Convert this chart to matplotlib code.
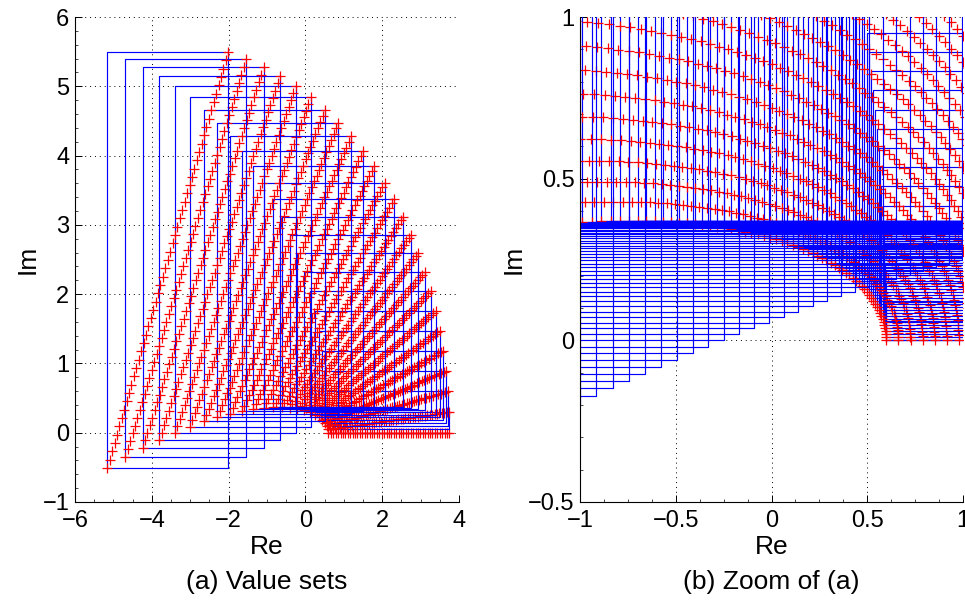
import numpy as np
import matplotlib
matplotlib.use("Agg")
from matplotlib import pyplot as plt
from matplotlib.ticker import AutoMinorLocator

plt.rcParams['font.family'] = ['Liberation Sans', 'DejaVu Sans']

# interval polynomial p(s) = a3 s^3 + a2 s^2 + a1 s + a0
a0_bounds = [0.60, 3.75]
a1_bounds = [0.48, 2.98]
a2 = 1.0
a3 = 0.12

# frequency grid for the full plot
omega_full = [0.0, 0.1, 0.2, 0.3, 0.4, 0.5, 0.6, 0.7, 0.8, 0.9, 1.0, 1.1, 1.2,
              1.3, 1.4, 1.5, 1.6, 1.7, 1.8, 1.9, 2.0, 2.1, 2.2, 2.3, 2.4]

# finer frequency grid for the zoomed plot
omega_zoom = [0.00, 0.02, 0.04, 0.06, 0.08, 0.10, 0.12, 0.14, 0.16, 0.18,
              0.20, 0.22, 0.24, 0.26, 0.28, 0.30, 0.32, 0.34, 0.36, 0.38,
              0.40, 0.42, 0.44, 0.46, 0.48, 0.50, 0.52, 0.54, 0.56, 0.58,
              0.60, 0.62, 0.64, 0.66, 0.68, 0.70, 0.72, 0.74, 0.76, 0.78,
              0.80, 0.82, 0.84, 0.86, 0.88, 0.90, 0.92, 0.94, 0.96, 0.98,
              1.00, 1.02, 1.04, 1.06, 1.08, 1.10, 1.12, 1.14, 1.16, 1.18,
              1.20, 1.22, 1.24, 1.26, 1.28, 1.30, 1.32, 1.34, 1.36, 1.38,
              1.40, 1.42, 1.44, 1.46, 1.48, 1.50, 1.52, 1.54, 1.56, 1.58,
              1.60, 1.62, 1.64, 1.66, 1.68, 1.70, 1.72, 1.74, 1.76, 1.78,
              1.80, 1.82, 1.84, 1.86, 1.88, 1.90, 1.92, 1.94, 1.96, 1.98,
              2.00, 2.02, 2.04, 2.06, 2.08, 2.10, 2.12, 2.14, 2.16, 2.18,
              2.20, 2.22, 2.24, 2.26, 2.28, 2.30, 2.32, 2.34, 2.36, 2.38,
              2.40]

# samples of the uncertain parameter q in [0, 1]
q_samples = [0.00, 0.02, 0.04, 0.06, 0.08, 0.10, 0.12, 0.14, 0.16, 0.18,
             0.20, 0.22, 0.24, 0.26, 0.28, 0.30, 0.32, 0.34, 0.36, 0.38,
             0.40, 0.42, 0.44, 0.46, 0.48, 0.50, 0.52, 0.54, 0.56, 0.58,
             0.60, 0.62, 0.64, 0.66, 0.68, 0.70, 0.72, 0.74, 0.76, 0.78,
             0.80, 0.82, 0.84, 0.86, 0.88, 0.90, 0.92, 0.94, 0.96, 0.98,
             1.00]


def p_jw(w, a0, a1):
    s = 1j * w
    return a3 * s**3 + a2 * s**2 + a1 * s + a0


def draw_value_sets(ax, omegas):
    q = np.array(q_samples)
    for w in omegas:
        # Kharitonov rectangle from the coefficient bounds
        lo = p_jw(w, a0_bounds[0], a1_bounds[0])
        hi = p_jw(w, a0_bounds[1], a1_bounds[1])
        rx = [lo.real, hi.real, hi.real, lo.real, lo.real]
        ry = [lo.imag, lo.imag, hi.imag, hi.imag, lo.imag]
        ax.plot(rx, ry, color='b', lw=0.85)
        # affine family: both coefficients move with q
        a0 = a0_bounds[0] + q * (a0_bounds[1] - a0_bounds[0])
        a1 = a1_bounds[0] + q * (a1_bounds[1] - a1_bounds[0])
        v = p_jw(w, a0, a1)
        ax.plot(v.real, v.imag, '+', color='r', ms=7.5, mew=0.9)


def style_axes(ax, xticks, xlabels, yticks, ylabels, xlim, ylim):
    ax.set_xlim(xlim)
    ax.set_ylim(ylim)
    ax.set_xticks(xticks)
    ax.set_xticklabels(xlabels)
    ax.set_yticks(yticks)
    ax.set_yticklabels(ylabels)
    ax.xaxis.set_minor_locator(AutoMinorLocator(4))
    ax.yaxis.set_minor_locator(AutoMinorLocator(5))
    ax.tick_params(which='both', direction='in', labelsize=17, top=False, right=False)
    ax.tick_params(axis='x', which='major', length=5, width=0.7, pad=6)
    ax.tick_params(axis='y', which='major', length=5, width=0.7, pad=4)
    ax.tick_params(which='minor', length=2.5, width=0.5)
    for side in ('top', 'right'):
        ax.spines[side].set_visible(False)
    for side in ('left', 'bottom'):
        ax.spines[side].set_linewidth(0.8)
    ax.grid(True, which='major', color='k', linestyle=(0, (1, 4)), linewidth=0.7)
    ax.set_axisbelow(True)
    ax.set_xlabel('Re', fontsize=19, labelpad=2)
    ax.set_ylabel('Im', fontsize=19, labelpad=2)


fig = plt.figure(figsize=(9.65, 6.01), dpi=100)
ax1 = fig.add_axes([75 / 965, 99 / 601, 384 / 965, 485 / 601])
ax2 = fig.add_axes([580 / 965, 99 / 601, 383 / 965, 485 / 601])

draw_value_sets(ax1, omega_full)
style_axes(ax1, [-6, -4, -2, 0, 2, 4], ['\u22126', '\u22124', '\u22122', '0', '2', '4'],
           [-1, 0, 1, 2, 3, 4, 5, 6], ['\u22121', '0', '1', '2', '3', '4', '5', '6'],
           (-6, 4), (-1, 6))

draw_value_sets(ax2, omega_zoom)
style_axes(ax2, [-1, -0.5, 0, 0.5, 1], ['\u22121', '\u22120.5', '0', '0.5', '1'],
           [-0.5, 0, 0.5, 1], ['\u22120.5', '0', '0.5', '1'],
           (-1, 1), (-0.5, 1))

fig.text(267 / 965, 1 - 582 / 601, '(a) Value sets', ha='center', va='center', fontsize=19)
fig.text(771 / 965, 1 - 582 / 601, '(b) Zoom of (a)', ha='center', va='center', fontsize=19)

fig.savefig('out.png', dpi=100)
